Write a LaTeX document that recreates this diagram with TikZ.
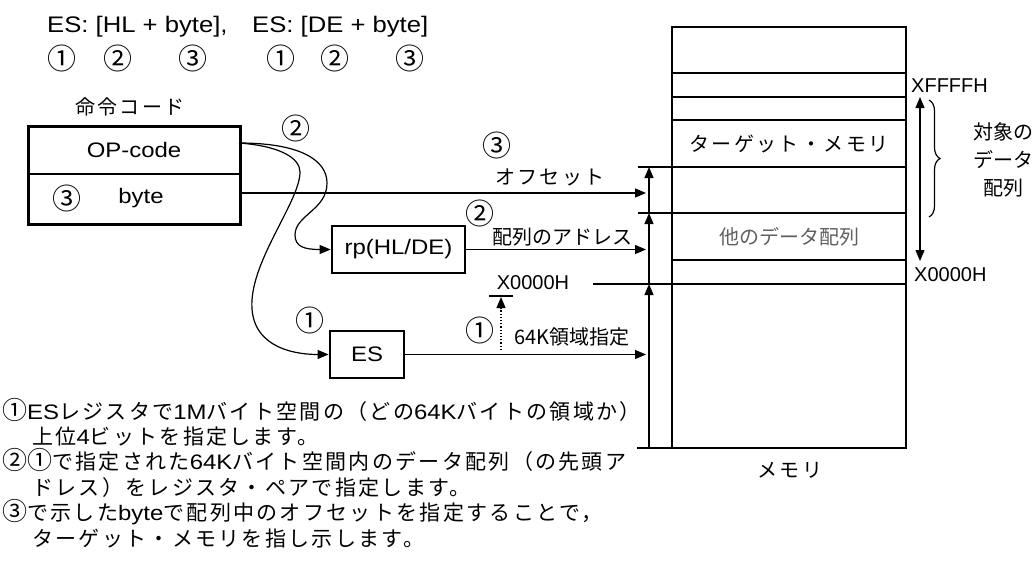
\documentclass[tikz,border=0pt]{standalone}
\usepackage{fontspec}
\setmainfont{Liberation Sans}
\newfontfamily\latw[FakeStretch=1.14]{Liberation Sans}
\newfontfamily\jp{Noto Sans CJK JP}
\newfontfamily\jpn[LetterSpace=11]{Noto Sans CJK JP}
\newfontfamily\jpm[LetterSpace=12]{Noto Sans CJK JP}
\usetikzlibrary{arrows.meta,decorations.pathreplacing}
\definecolor{txtgray}{RGB}{96,96,96}
\newcommand{\lt}[1]{{\latw #1}}
\newcommand{\cn}[1]{{\jp\fontsize{25}{21}\selectfont #1}}
\begin{document}
\begin{tikzpicture}[x=1pt,y=-1pt,
  thinline/.style={line width=1.2pt},
  thickbox/.style={draw, line width=2.8pt, inner sep=0pt},
  arr/.style={line width=1.2pt, -{Triangle[length=11pt,width=9pt]}},
  dblarr/.style={line width=1.2pt, {Triangle[length=11pt,width=9pt]}-{Triangle[length=11pt,width=9pt]}},
  lab/.style={font=\jp\fontsize{20}{20}\selectfont, inner sep=0pt},
  circ/.style={font=\jp\fontsize{29}{29}\selectfont, inner sep=0pt},
  labm/.style={font=\jpm\fontsize{20}{20}\selectfont, inner sep=0pt},
  lat/.style={font=\fontsize{20}{20}\selectfont, inner sep=0pt},
  latb/.style={font=\latw\fontsize{21}{21}\selectfont, inner sep=0pt},
  note/.style={font=\jpn\fontsize{21}{21}\selectfont, inner sep=0pt, anchor=base west},
  ]
\useasboundingbox (0,0) rectangle (1035,578);

% title
\node[font=\latw\fontsize{22.5}{22.5}\selectfont, inner sep=0pt, anchor=west] (t1) at (47,27) {ES: [HL + byte],};
\node[font=\latw\fontsize{22.5}{22.5}\selectfont, inner sep=0pt, anchor=west] (t2) at (252,27) {ES: [DE + byte]};
\node[circ] (c1) at (62,58) {①};
\node[circ] (c2) at (118,58) {②};
\node[circ] (c3) at (193,58) {③};
\node[circ] (c4) at (281,58) {①};
\node[circ] (c5) at (335,58) {②};
\node[circ] (c6) at (410,58) {③};

% instruction code box
\node[labm] (cmdlabel) at (130,107) {命令コード};
\node[thickbox, minimum width=212, minimum height=98, anchor=north west] (instr) at (27,125) {};
\draw[thinline] (instr.west |- 0,174) -- (instr.east |- 0,174);
\node[latb] (opcode) at (134,150) {OP-code};
\node[circ] (bc3) at (67,198) {③};
\node[latb] (byte) at (141,198) {byte};
\coordinate (opout) at (239,143);

% registers
\node[thickbox, minimum width=133, minimum height=47, font=\latw\fontsize{21}{21}\selectfont] (rp) at (398.5,249.5) {rp(HL/DE)};
\node[thickbox, minimum width=74, minimum height=47, font=\latw\fontsize{21}{21}\selectfont] (es) at (367,354.5) {ES};

% curves
\node[circ] (cur2) at (296,128) {②};
\node[circ] (cur1) at (310,320) {①};
\draw[arr] (opout) .. controls (300,143) and (327,160) .. (327,183)
  .. controls (327,210) and (295,215) .. (295,235)
  .. controls (295,247) and (305,249.5) .. (rp.west);
\draw[arr] (opout) .. controls (280,146) and (300,158) .. (300,172)
  .. controls (300,200) and (255,255) .. (252,300)
  .. controls (249,345) and (290,354.5) .. (es.west);

% memory
\draw[line width=2.8pt] (672,27) rectangle (906,448);
\foreach \yy in {73,97,120,167,213,260,284} \draw[thinline] (672,\yy) -- (906,\yy);
\coordinate (tk1) at (638,167);
\coordinate (tk2) at (638,213);
\coordinate (tk3) at (593,284);
\draw[thinline] (tk1) -- (672,167);
\draw[thinline] (tk2) -- (672,213);
\draw[thinline] (tk3) -- (672,284);
\draw[line width=2.8pt] (637,448) -- (906,448);
\coordinate (v0) at (649,448);
\coordinate (v1) at (649,284);
\coordinate (v2) at (649,213);
\coordinate (v3) at (649,167);
\draw[arr] (v0) -- (v1);
\draw[arr] (v1) -- (v2);
\draw[arr] (v2) -- (v3);

\coordinate (offend) at (646,193);
\draw[arr] (instr.east |- offend) -- (offend);
\draw[arr] (rp.east) -- (rp.east -| offend);
\draw[arr] (es.east) -- (es.east -| offend);

\node[circ] (o3) at (497,145) {③};
\node[labm] (offset) at (550,177) {オフセット};
\node[circ] (a2) at (480,213) {②};
\node[lab] (addr) at (562,237) {配列のアドレス};
\node[lat] (xlow) at (533,283) {X0000H};
\coordinate (barL) at (489,296);
\coordinate (barR) at (513,296);
\draw[thinline] (barL) -- (barR);
\coordinate (dotbot) at (501,350);
\coordinate (dottop) at (501,297);
\draw[line width=1.2pt, dotted, -{Triangle[length=11pt,width=9pt]}] (dotbot) -- (dottop);
\node[circ] (e1) at (480,330) {①};
\node[lab] (k64) at (572,337) {64K領域指定};

% memory labels
\node[labm] (target) at (789,144) {ターゲット・メモリ};
\node[lab, text=txtgray] (other) at (789,237) {他のデータ配列};
\node[labm] (memlabel) at (790,470) {メモリ};
\node[lat, anchor=west] (xhigh) at (911,86) {XFFFFH};
\node[lat, anchor=west] (xlow2) at (914,275) {X0000H};
\coordinate (da1) at (920,97);
\coordinate (da2) at (920,261);
\draw[dblarr] (da1) -- (da2);
\coordinate (br1) at (929,100);
\coordinate (br2) at (929,217);
\draw[thinline, decorate, decoration={brace, amplitude=11pt}] (br1) -- (br2);
\node[lab, align=center] (brlab) at (1003,160) {対象の\\[8pt]データ\\[8pt]配列};

% notes
\node[note] (n1) at (2,419) {\cn{①}\lt{ES}レジスタで\lt{1M}バイト空間の（どの\lt{64K}バイトの領域か）};
\node[note] (n2) at (32,444) {上位\lt{4}ビットを指定します。};
\node[note] (n3) at (2,469) {\cn{②}\cn{①}で指定された\lt{64K}バイト空間内のデータ配列（の先頭ア};
\node[note] (n4) at (32,495) {ドレス）をレジスタ・ペアで指定します。};
\node[note] (n5) at (2,520) {\cn{③}で示した\lt{byte}で配列中のオフセットを指定することで，};
\node[note] (n6) at (32,546) {ターゲット・メモリを指し示します。};
\end{tikzpicture}
\end{document}
